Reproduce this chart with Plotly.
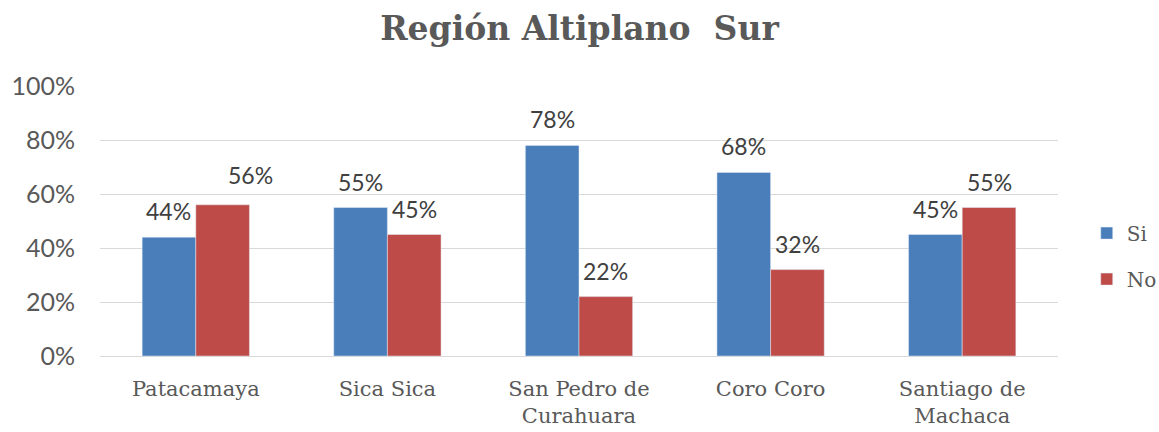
import plotly.graph_objects as go

categories = ["Patacamaya", "Sica Sica", "San Pedro de<br>Curahuara", "Coro Coro", "Santiago de<br>Machaca"]
si_values = [0.44, 0.55, 0.78, 0.68, 0.45]
no_values = [0.56, 0.45, 0.22, 0.32, 0.55]
y_ticks = [0, 0.2, 0.4, 0.6, 0.8, 1.0]

serif = "DejaVu Serif"
sans = "Lato"
label_font = dict(family=sans, size=23, color="#404040")

# plot geometry (pixels) used to place the value labels over each bar
margin_l, margin_r = 100, 101
plot_w = 1159 - margin_l - margin_r
bargap = 0.44
bar_px = plot_w / len(categories) * (1 - bargap) / 2
half = bar_px / 2

fig = go.Figure()
fig.add_trace(go.Bar(name="Si", x=categories, y=si_values,
                     marker_color="#4a7ebb", legendgroup="si"))
fig.add_trace(go.Bar(name="No", x=categories, y=no_values,
                     marker_color="#be4b48", legendgroup="no"))

# value labels above the bars; the first "No" label sits nudged to the right
no_extra = [28, 0, 0, 0, 0]
no_lift = [14, 10, 10, 10, 10]
for cat, si, no, extra, lift in zip(categories, si_values, no_values, no_extra, no_lift):
    fig.add_annotation(x=cat, y=si, text=f"{si:.0%}", showarrow=False,
                       xshift=-half, yshift=10, yanchor="bottom",
                       font=label_font)
    fig.add_annotation(x=cat, y=no, text=f"{no:.0%}", showarrow=False,
                       xshift=half + extra, yshift=lift, yanchor="bottom",
                       font=label_font)

fig.update_layout(
    width=1159, height=432,
    margin=dict(l=margin_l, r=margin_r, t=86, b=76, autoexpand=False),
    paper_bgcolor="white", plot_bgcolor="white",
    barmode="group", bargap=bargap, bargroupgap=0,
    title=dict(text="<b>Región Altiplano  Sur</b>", x=0.5, xanchor="center",
               y=0.935, yanchor="middle",
               font=dict(family=serif, size=33, color="#595959")),
    legend=dict(x=1.03, y=0.37, xanchor="left", yanchor="middle",
                font=dict(family=serif, size=20, color="#595959"),
                tracegroupgap=17, itemwidth=30),
)
fig.update_xaxes(
    showgrid=False, showline=False, ticks="",
    tickfont=dict(family=serif, size=21, color="#595959"),
    ticklabelstandoff=18,
)
fig.update_yaxes(
    range=[0, 1], tickvals=y_ticks, tickformat=".0%",
    showgrid=True, gridcolor="#d9d9d9", gridwidth=1.3,
    zeroline=True, zerolinecolor="#d9d9d9", zerolinewidth=1.3,
    showline=False, ticks="",
    tickfont=dict(family=sans, size=25, color="#595959"),
    ticklabelstandoff=24,
)

fig.write_html("out.html")
